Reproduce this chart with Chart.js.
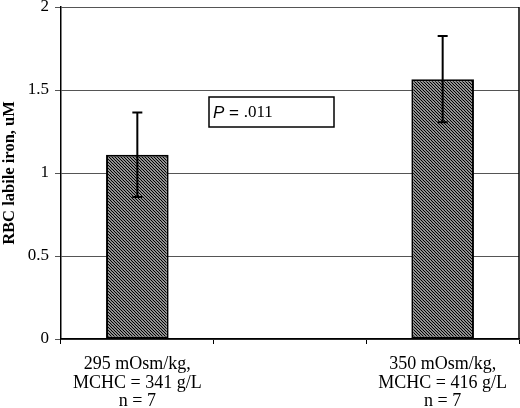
<!DOCTYPE html>
<html>
<head>
<meta charset="utf-8">
<script src="https://cdn.jsdelivr.net/npm/chart.js@4"></script>
<style>
  html, body { margin: 0; padding: 0; background: #fff; }
  #wrap { width: 520px; height: 408px; }
</style>
</head>
<body>
<div id="wrap"><canvas id="ironChart" width="520" height="408"></canvas></div>
<script>
// categories (middle one is an empty slot, like the original Excel chart)
var labels = [
  ['295 mOsm/kg,', 'MCHC = 341 g/L', 'n = 7'],
  '',
  ['350 mOsm/kg,', 'MCHC = 416 g/L', 'n = 7']
];
var ironValues = [1.11, null, 1.565];
var ironErrors = [0.255, null, 0.26];
var yTicks = [0, 0.5, 1, 1.5, 2];
var pLabel = '.011';

// diagonal hatch fill
function hatch() {
  var c = document.createElement('canvas');
  c.width = 3; c.height = 3;
  var g = c.getContext('2d');
  g.fillStyle = '#fff';
  g.fillRect(0, 0, 3, 3);
  g.strokeStyle = '#000';
  g.lineWidth = 1.25;
  g.beginPath();
  g.moveTo(-1, -1); g.lineTo(4, 4);
  g.moveTo(-1, 2); g.lineTo(1, 4);
  g.moveTo(2, -1); g.lineTo(4, 1);
  g.stroke();
  return g.createPattern(c, 'repeat');
}
var ctx = document.getElementById('ironChart').getContext('2d');

// error bars, right frame line, P value box
var extras = {
  id: 'extras',
  afterDatasetsDraw: function(chart) {
    var c = chart.ctx, x = chart.scales.x, y = chart.scales.y, a = chart.chartArea;
    c.save();
    c.strokeStyle = '#000';
    c.lineWidth = 2;
    ironValues.forEach(function(v, i) {
      if (v === null) return;
      var px = x.getPixelForValue(i);
      var hi = y.getPixelForValue(v + ironErrors[i]);
      var lo = y.getPixelForValue(v - ironErrors[i]);
      c.beginPath();
      c.moveTo(px, hi); c.lineTo(px, lo);
      c.moveTo(px - 5, hi); c.lineTo(px + 5, hi);
      c.moveTo(px - 5, lo); c.lineTo(px + 5, lo);
      c.stroke();
    });
    // right edge of plot
    c.lineWidth = 1.5;
    c.beginPath();
    c.moveTo(a.right, a.top); c.lineTo(a.right, a.bottom);
    c.stroke();

    // P value box
    var bx = 209, by = 97, bw = 125, bh = 30;
    c.fillStyle = '#fff';
    c.fillRect(bx, by, bw, bh);
    c.lineWidth = 1.5;
    c.strokeRect(bx, by, bw, bh);
    c.fillStyle = '#000';
    c.textBaseline = 'middle';
    c.textAlign = 'left';
    c.font = 'italic 17px "Liberation Sans", Arial, sans-serif';
    c.fillText('P', bx + 4, by + bh / 2 + 1);
    var w = c.measureText('P').width;
    c.font = '17px "Liberation Sans", Arial, sans-serif';
    c.fillText(' = ', bx + 4 + w, by + bh / 2 + 1);
    w += c.measureText(' = ').width;
    c.font = '17px "Liberation Serif", "Times New Roman", serif';
    c.fillText(pLabel, bx + 4 + w, by + bh / 2 + 1);
    c.restore();
  }
};

var chart = new Chart(ctx, {
  type: 'bar',
  data: {
    labels: labels,
    datasets: [{
      label: 'RBC labile iron',
      data: ironValues,
      backgroundColor: hatch(),
      borderColor: '#000',
      borderWidth: 2,
      borderSkipped: false,
      categoryPercentage: 1,
      barPercentage: 0.41
    }]
  },
  options: {
    responsive: false,
    animation: false,
    layout: { padding: { top: 7, right: 1, left: 0, bottom: 0 } },
    plugins: { legend: { display: false }, tooltip: { enabled: false } },
    scales: {
      x: {
        grid: { display: true, offset: true, drawOnChartArea: false, tickLength: 5, color: '#000' },
        border: { color: '#000', width: 1.5 },
        ticks: {
          color: '#000',
          padding: 11,
          maxRotation: 0,
          autoSkip: false,
          font: { family: '"Liberation Serif", "Times New Roman", serif', size: 18, lineHeight: 1.03 }
        },
        afterFit: function(s) { s.height = 69; s.paddingLeft = 0; s.paddingRight = 0; }
      },
      y: {
        min: 0,
        max: 2,
        afterBuildTicks: function(s) { s.ticks = yTicks.map(function(v) { return { value: v }; }); },
        grid: { color: '#555', lineWidth: 1, tickLength: 6 },
        border: { color: '#000', width: 1.5 },
        title: {
          display: true,
          text: 'RBC labile iron, uM',
          color: '#000',
          padding: { top: 0, bottom: 4 },
          font: { family: '"Liberation Serif", "Times New Roman", serif', size: 16.5, weight: 'bold' }
        },
        ticks: {
          color: '#000',
          padding: 6,
          callback: function(v) { return String(v); },
          font: { family: '"Liberation Serif", "Times New Roman", serif', size: 17 }
        },
        afterFit: function(s) { s.width = 61; s.paddingTop = 0; s.paddingBottom = 0; }
      }
    }
  },
  plugins: [extras]
});
</script>
</body>
</html>
